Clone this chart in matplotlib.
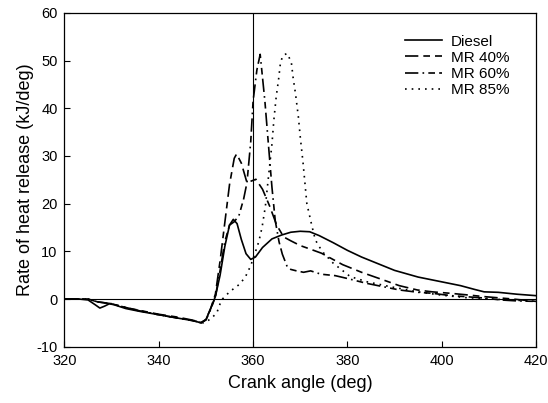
import numpy as np
import matplotlib.pyplot as plt

plt.rcParams['font.family'] = ['Liberation Sans', 'DejaVu Sans']
plt.rcParams['axes.unicode_minus'] = False

# Diesel (solid)
diesel_x = [320, 323, 325, 326.5, 327.5, 328.5, 329.5, 330.5, 333, 336, 340, 344, 347, 349, 350,
            351, 352, 353, 354, 355, 355.8, 356.6, 357.5, 358.5, 359.5, 360.5, 362, 364, 366, 368,
            370, 372, 374, 377, 380, 383, 386, 390, 395, 400, 404, 407, 409, 412, 416, 420]
diesel_y = [0, 0, -0.2, -1.2, -1.9, -1.5, -1.0, -1.2, -2.0, -2.6, -3.3, -4.0, -4.5, -5.0, -4.3,
            -2.0, 0.5, 5.0, 11.0, 15.5, 16.7, 15.8, 12.5, 9.5, 8.3, 8.8, 10.8, 12.6, 13.4, 14.0,
            14.2, 14.1, 13.3, 11.8, 10.2, 8.8, 7.6, 6.0, 4.6, 3.6, 2.8, 2.0, 1.5, 1.4, 1.0, 0.7]

# MR 40% (long dash)
mr40_x = [320, 325, 327, 330, 333, 336, 340, 344, 347, 349, 350, 351, 352, 353, 354, 355, 356,
          356.5, 357.5, 358.7, 359.8, 360.6, 362, 363.5, 365, 366.5, 368, 370, 372, 374.5, 379,
          383, 387.6, 391, 394.8, 398, 401.8, 405, 409, 415, 420]
mr40_y = [0, 0, -0.6, -1.0, -1.8, -2.4, -3.2, -3.8, -4.4, -4.9, -4.3, -2.0, 1.0, 8.0, 16.0, 24.0,
          29.5, 30.4, 28.5, 24.4, 24.8, 25.1, 23.0, 19.5, 15.5, 13.0, 12.2, 11.2, 10.5, 9.6, 7.2,
          5.6, 4.0, 2.8, 1.9, 1.5, 1.2, 0.9, 0.5, 0.0, -0.5]

# MR 60% (dash-dot)
mr60_x = [320, 325, 327, 330, 333, 336, 340, 344, 347, 349, 350, 351, 352, 353, 354, 355, 356,
          357, 358, 358.7, 359.5, 360, 360.8, 361.5, 362.5, 363.2, 364, 364.7, 365.5, 366.2,
          367.3, 368, 369.2, 370.7, 372.2, 374.4, 377.4, 380, 384, 388, 391, 395, 398, 402, 405,
          409, 412.5, 416, 420]
mr60_y = [0, 0, -0.6, -1.0, -1.8, -2.5, -3.3, -4.0, -4.5, -5.0, -4.4, -2.2, 0.5, 6.0, 12.0, 15.5,
          16.2, 17.5, 21.0, 24.4, 33.0, 41.5, 48.0, 51.3, 41.5, 33.0, 23.4, 16.4, 12.0, 9.4,
          6.6, 6.2, 5.9, 5.6, 5.9, 5.2, 4.9, 4.3, 3.3, 2.5, 1.9, 1.4, 1.2, 0.7, 0.5, 0.2, -0.2,
          -0.4, -0.5]

# MR 85% (dotted)
mr85_x = [320, 325, 327, 330, 333, 336, 340, 344, 347, 349.5, 351, 352.3, 353, 353.5, 355, 357,
          358.3, 359.5, 360.4, 361.2, 361.9, 362.6, 363.3, 364, 364.4, 364.9, 365.4, 365.8, 366.3,
          367.2, 368.1, 368.5, 369, 369.6, 370, 370.6, 371.4, 372.5, 373.2, 374, 375, 377, 380.6,
          384.2, 389, 395, 400, 405, 410, 415, 420]
mr85_y = [0, 0, -0.6, -1.0, -1.8, -2.5, -3.3, -4.0, -4.5, -5.0, -4.2, -2.9, -1.0, 0.0, 1.5, 3.0,
          4.5, 7.0, 9.6, 12.0, 15.0, 19.4, 26.0, 32.5, 37.5, 42.4, 46.0, 49.5, 51.0, 51.5, 49.7,
          46.3, 43.0, 38.2, 34.0, 28.5, 20.0, 15.2, 12.4, 11.0, 9.6, 7.5, 4.7, 3.6, 2.6, 1.5, 0.8,
          0.3, 0.0, -0.2, -0.5]

fig = plt.figure(figsize=(5.48, 4.03), dpi=100)
ax = fig.add_axes([0.1177, 0.1397, 0.8604, 0.8285])

ax.axvline(360, color='black', lw=0.8, zorder=1)
ax.axhline(0, color='black', lw=0.8, zorder=1)

ax.plot(diesel_x, diesel_y, color='black', lw=1.2, label='Diesel')
ax.plot(mr40_x, mr40_y, color='black', lw=1.2, dashes=(8, 3, 4, 3), label='MR 40%')
ax.plot(mr60_x, mr60_y, color='black', lw=1.2, dashes=(8, 2.5, 1, 2.5, 4, 2.5), label='MR 60%')
ax.plot(mr85_x, mr85_y, color='black', lw=1.2, dashes=(1, 3), label='MR 85%')

ax.set_xlim(320, 420)
ax.set_ylim(-10, 60)
ax.set_xticks([320, 340, 360, 380, 400, 420])
ax.set_yticks([-10, 0, 10, 20, 30, 40, 50, 60])
ax.tick_params(direction='in', length=4, width=0.8, labelsize=10.5, pad=5)
for s in ax.spines.values():
    s.set_linewidth(0.9)

ax.set_xlabel('Crank angle (deg)', fontsize=13, labelpad=5)
ax.set_ylabel('Rate of heat release (kJ/deg)', fontsize=13, labelpad=2)

ax.legend(loc='upper left', bbox_to_anchor=(0.722, 0.935), frameon=False, fontsize=11,
          handlelength=2.4, handletextpad=0.6, labelspacing=0.15, borderpad=0, borderaxespad=0)

fig.savefig('out.png', dpi=100)
